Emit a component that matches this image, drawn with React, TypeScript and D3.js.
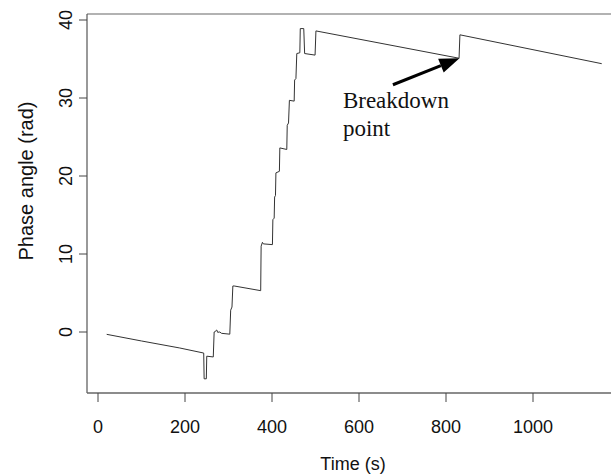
import React from 'react';
import * as d3 from 'd3';

// phase trace
const timeS = [
  20, 100, 188, 243, 244, 249, 250, 265, 267, 269, 273, 275, 280, 284, 303,
  305, 308, 310, 313, 374, 375, 378, 380, 401, 402, 405, 406, 408, 409, 417,
  418, 434, 435, 438, 440, 451, 452, 455, 457, 464, 465, 473, 475, 499, 501,
  830, 832, 1158,
];
const phaseRad = [
  -0.3, -1.15, -2.05, -2.7, -6.0, -6.0, -3.1, -3.2, 0.0, 0.05, 0.26, -0.04, -0.0, -0.17, -0.28,
  2.8, 3.2, 5.9, 5.9, 5.3, 11.0, 11.5, 11.3, 11.2, 14.4, 14.6, 17.3, 17.5, 20.4, 20.6,
  23.6, 23.4, 26.5, 26.8, 29.7, 29.6, 32.3, 32.5, 35.7, 35.8, 38.9, 38.9, 35.7, 35.5, 38.6,
  35.1, 38.1, 34.4,
];
const xTicks = [0, 200, 400, 600, 800, 1000];
const yTicks = [0, 10, 20, 30, 40];

// annotation: arrow tail -> breakdown point
const arrowFrom = [678, 31.7];
const arrowTo = [831, 35.1];
const noteAt = [563, 28.7];
const noteLines = ['Breakdown', 'point'];

const W = 611;
const H = 476;
const box = { left: 87, top: 14, bottom: 393 };

const sans = 'Arial, "Liberation Sans", sans-serif';

const App: React.FC = () => {
  const x = d3.scaleLinear().domain([0, 1000]).range([98, 533]);
  const y = d3.scaleLinear().domain([0, 40]).range([332, 20]);

  const pts = timeS.map((t, i) => [t, phaseRad[i]] as [number, number]);
  const line = d3.line<[number, number]>()
    .x(d => x(d[0]))
    .y(d => y(d[1]));

  // arrow head
  const x0 = x(arrowFrom[0]), y0 = y(arrowFrom[1]);
  const x1 = x(arrowTo[0]), y1 = y(arrowTo[1]);
  const ang = Math.atan2(y1 - y0, x1 - x0);
  const headLen = 20, headW = 7.5;
  const bx = x1 - headLen * Math.cos(ang), by = y1 - headLen * Math.sin(ang);
  const head = [
    [x1, y1],
    [bx + headW * Math.sin(ang), by - headW * Math.cos(ang)],
    [bx - headW * Math.sin(ang), by + headW * Math.cos(ang)],
  ].map(p => p.join(',')).join(' ');

  return (
    <div style={{ position: 'absolute', left: 0, top: 0 }}>
      <svg width={W} height={H} style={{ display: 'block', background: '#fff' }}>
        {/* frame */}
        <line x1={box.left} x2={W} y1={box.top} y2={box.top} stroke="#999" strokeWidth={1.5} />
        <line x1={box.left} x2={box.left} y1={box.top} y2={box.bottom} stroke="#555" strokeWidth={1.2} />
        <line x1={box.left} x2={W} y1={box.bottom} y2={box.bottom} stroke="#666" strokeWidth={1.3} />

        {/* x axis */}
        {xTicks.map(t => (
          <g key={t}>
            <line x1={x(t)} x2={x(t)} y1={box.bottom} y2={box.bottom + 9} stroke="#444" />
            <text x={x(t)} y={433} textAnchor="middle" fontFamily={sans} fontSize={18} fill="#111">{t}</text>
          </g>
        ))}
        <text x={353} y={470} textAnchor="middle" fontFamily={sans} fontSize={18} fill="#111">Time (s)</text>

        {/* y axis */}
        {yTicks.map(v => (
          <g key={v}>
            <line x1={box.left - 8} x2={box.left} y1={y(v)} y2={y(v)} stroke="#444" />
            <text transform={`translate(72,${y(v)}) rotate(-90)`} textAnchor="middle" fontFamily={sans} fontSize={18} fill="#111">{v}</text>
          </g>
        ))}
        <text transform="translate(33,181) rotate(-90)" textAnchor="middle" fontFamily={sans} fontSize={20} fill="#111">Phase angle (rad)</text>

        {/* trace */}
        <path d={line(pts) ?? ''} fill="none" stroke="#333" strokeWidth={1} />

        {/* annotation */}
        <line x1={x0} y1={y0} x2={bx} y2={by} stroke="#000" strokeWidth={3} />
        <polygon points={head} fill="#000" />
        {noteLines.map((s, i) => (
          <text key={s} x={x(noteAt[0])} y={y(noteAt[1]) + i * 28} fontFamily='"Liberation Serif", "Times New Roman", serif' fontSize={23} fill="#111">{s}</text>
        ))}
      </svg>
    </div>
  );
};

export default App;
